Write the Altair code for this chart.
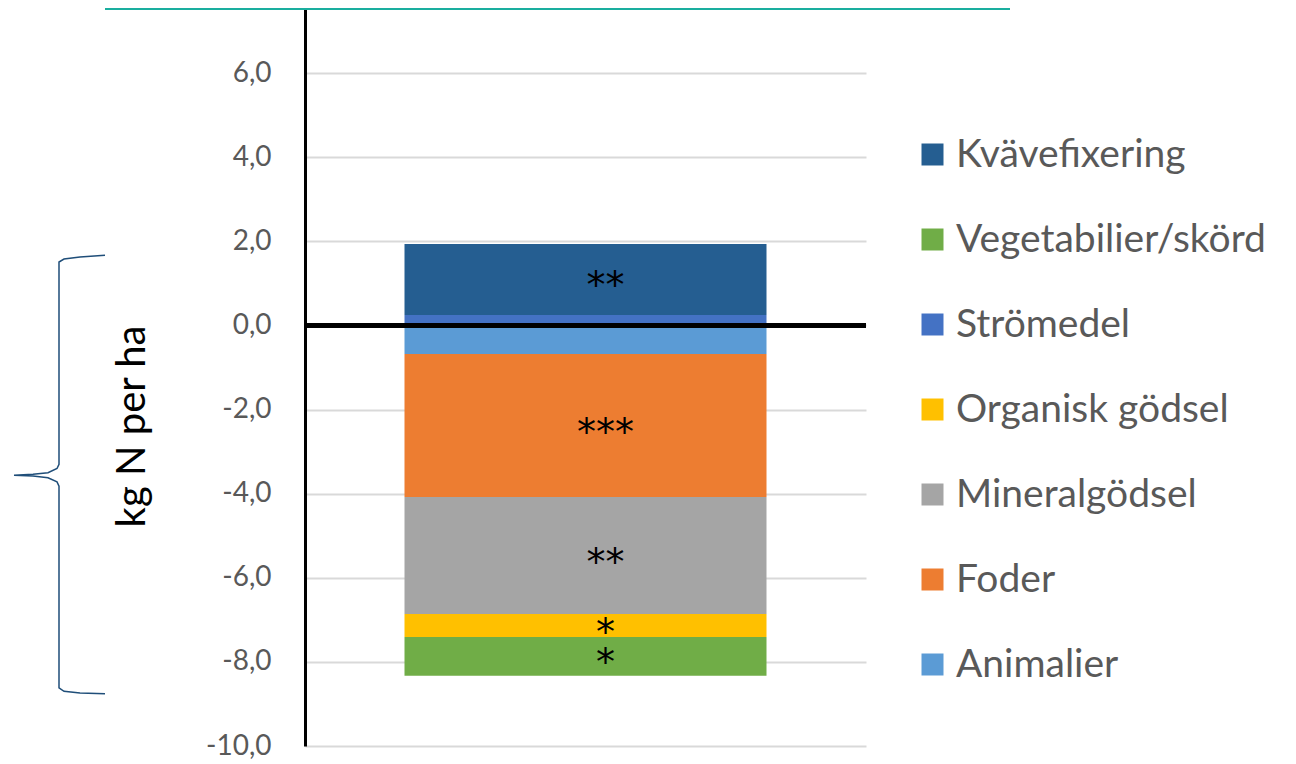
import altair as alt
import pandas as pd

# Series (stack order as in the source chart)
categories = ['Animalier', 'Foder', 'Mineralgödsel', 'Organisk gödsel',
              'Strömedel', 'Vegetabilier/skörd', 'Kvävefixering']
values = [-0.68, -3.40, -2.78, -0.55, 0.25, -0.92, 1.69]
stars = ['', '***', '**', '*', '', '*', '**']

legend_order = ['Kvävefixering', 'Vegetabilier/skörd', 'Strömedel',
                'Organisk gödsel', 'Mineralgödsel', 'Foder', 'Animalier']
legend_colors = ['#255E91', '#70AD47', '#4472C4', '#FFC000',
                 '#A5A5A5', '#ED7D31', '#5B9BD5']

y_ticks = [-10, -8, -6, -4, -2, 0, 2, 4, 6]

# curly brace annotation (x: pixel offset left of the axis, y: axis units)
brace_x = [-200, -225, -241, -246, -246, -248, -257, -272, -291,
           -272, -257, -248, -246, -246, -241, -225, -200]
brace_y = [1.67, 1.63, 1.58, 1.51, -3.30, -3.40, -3.50, -3.54, -3.56,
           -3.58, -3.62, -3.72, -3.82, -8.62, -8.70, -8.74, -8.76]

FONT = 'Lato'
W, H = 561, 738

df = pd.DataFrame({
    'cat': categories,
    'value': values,
    'star': stars,
    'order': list(range(len(categories))),
    'grp': ['A'] * len(categories),
})
brace_df = pd.DataFrame({'bx': brace_x, 'by': brace_y, 'i': list(range(len(brace_x)))})

yscale = alt.Scale(domain=[-10, 7.55], nice=False, zero=False)

label_expr = "(datum.value < 0 ? '-' : '') + replace(format(abs(datum.value), '.1f'), '.', ',')"

yaxis = alt.Axis(
    values=y_ticks, labelExpr=label_expr,
    labelFont=FONT, labelFontSize=28, labelColor='#595959', labelPadding=34,
    ticks=False, domainColor='black', domainWidth=3,
    gridColor='#D9D9D9', gridWidth=2,
    title='kg N per ha', titleFont=FONT, titleFontSize=40, titleColor='black',
    titleFontWeight='normal', titleAngle=-90, titleX=-173, titleY=418,
    titleBaseline='middle', titleAlign='center',
)

base = alt.Chart(df).transform_stack(
    stack='value', groupby=['grp'], as_=['y0', 'y1'],
    sort=[alt.SortField('order', order='ascending')]
).transform_calculate(mid='(datum.y0 + datum.y1) / 2')

bars = base.mark_bar(size=362).encode(
    x=alt.X('grp:N', axis=None),
    y=alt.Y('y0:Q', scale=yscale, axis=yaxis),
    y2='y1:Q',
    color=alt.Color('cat:N', scale=alt.Scale(domain=legend_order, range=legend_colors),
                    legend=alt.Legend(orient='none', legendX=608, legendY=127,
                                      title=None, symbolType='square', symbolSize=484,
                                      symbolStrokeWidth=0, labelFont=FONT,
                                      labelFontSize=39, labelColor='#595959',
                                      labelLimit=0, rowPadding=45, labelOffset=4)),
)

text = base.transform_filter(alt.datum.star != '').mark_text(
    font='DejaVu Sans', fontSize=38, color='black', dx=20, dy=8, baseline='middle'
).encode(
    x=alt.X('grp:N', axis=None),
    y=alt.Y('mid:Q', scale=yscale),
    text='star:N',
)

zero = alt.Chart(df).mark_rule(color='black', strokeWidth=4).encode(
    y=alt.Y('z:Q', scale=yscale)
).transform_calculate(z='0')

brace = alt.Chart(brace_df).mark_line(color='#1F4E79', strokeWidth=1.5, clip=False).encode(
    x=alt.X('bx:Q', scale=alt.Scale(domain=[0, W], nice=False, zero=False), axis=None),
    y=alt.Y('by:Q', scale=yscale),
    order='i:Q',
)

box = alt.Chart(df).mark_rule(color='#1AAE9F', strokeWidth=2, clip=False).encode(
    x=alt.value(-200), x2=alt.value(705), y=alt.value(1)
)

chart = alt.layer(bars, zero, text, brace, box).resolve_scale(x='independent').properties(
    width=W, height=H,
    autosize=alt.AutoSizeParams(type='none'),
    padding={'left': 297, 'top': 0, 'right': 420, 'bottom': 22},
).configure_view(strokeWidth=0)

chart.save('out.html', embed_options={'renderer': 'svg', 'actions': False})
